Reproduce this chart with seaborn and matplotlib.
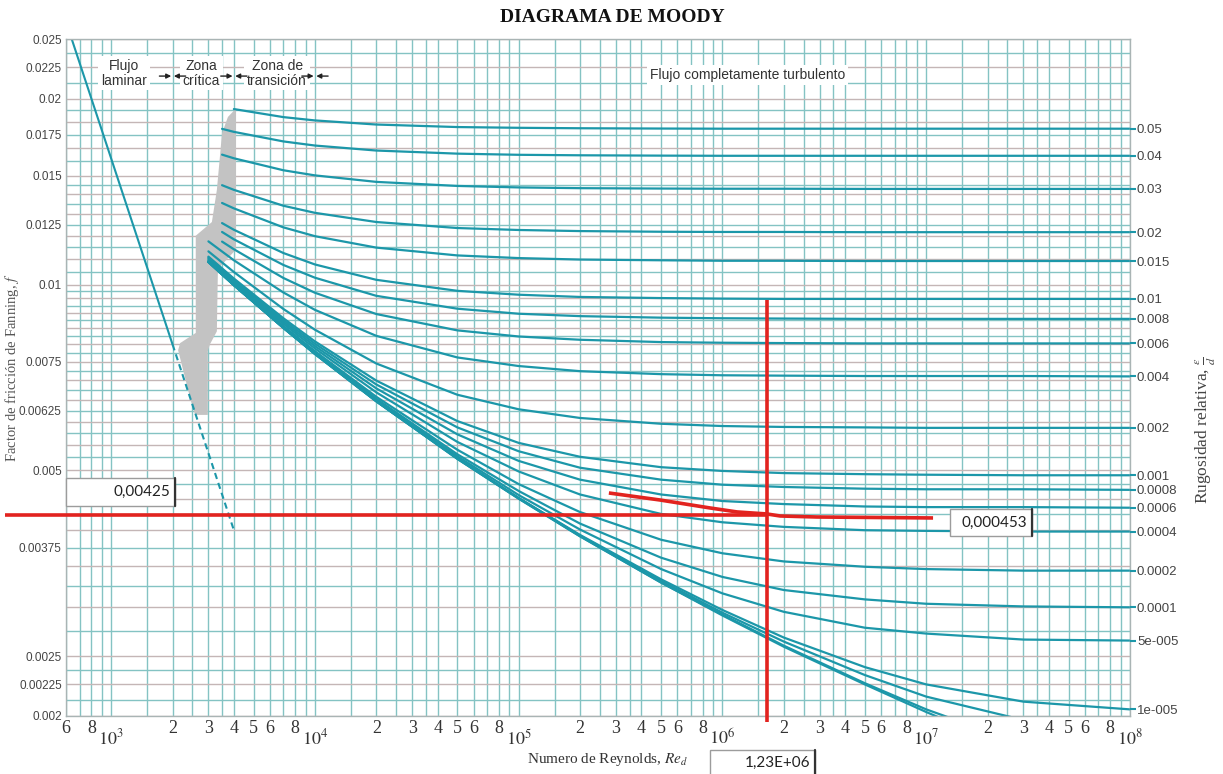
import numpy as np
import pandas as pd
import matplotlib
matplotlib.use("Agg")
import matplotlib.pyplot as plt
import seaborn as sns
from matplotlib.ticker import NullLocator
from matplotlib.patches import Rectangle
from matplotlib.lines import Line2D

# ---------------- data ----------------
RE_GRID = [4e3, 7e3, 1e4, 2e4, 5e4, 1e5, 2e5, 5e5, 1e6, 2e6, 5e6, 1e7, 3e7, 1e8]

ROUGHNESS = [0.05, 0.04, 0.03, 0.02, 0.015, 0.01, 0.008, 0.006, 0.004, 0.002,
             0.001, 0.0008, 0.0006, 0.0004, 0.0002, 0.0001, 5e-5, 1e-5, 5e-6, 1e-6, 0.0]
ROUGH_LABELS = ["0.05", "0.04", "0.03", "0.02", "0.015", "0.01", "0.008", "0.006", "0.004",
                "0.002", "0.001", "0.0008", "0.0006", "0.0004", "0.0002", "0.0001",
                "5e-005", "1e-005", None, None, None]
START_RE = [4000, 3500, 3500, 3500, 3500, 3500, 3500, 3500, 3000, 3000,
            3000, 3000, 3000, 3000, 3000, 3000, 3000, 3000, 3000, 3000, 3000]
START_F = [0.01925, 0.01788, 0.01624, 0.01449, 0.01356, 0.01258, 0.01217, 0.01174, 0.01175, 0.01132,
           0.01110, 0.01106, 0.01102, 0.01097, 0.01093, 0.01090, 0.01089, 0.01088, 0.01088, 0.01088, 0.01088]

F_0050 = [0.01925, 0.01868, 0.01845, 0.01817, 0.01800, 0.01795, 0.01792, 0.01790, 0.01789, 0.01789, 0.01789, 0.01789, 0.01789, 0.01789]
F_0040 = [0.01768, 0.01706, 0.01680, 0.01649, 0.01630, 0.01623, 0.01620, 0.01618, 0.01617, 0.01617, 0.01617, 0.01617, 0.01617, 0.01617]
F_0030 = [0.01602, 0.01532, 0.01503, 0.01467, 0.01445, 0.01437, 0.01433, 0.01431, 0.01430, 0.01430, 0.01429, 0.01429, 0.01429, 0.01429]
F_0020 = [0.01424, 0.01342, 0.01307, 0.01263, 0.01235, 0.01226, 0.01221, 0.01218, 0.01217, 0.01217, 0.01216, 0.01216, 0.01216, 0.01216]
F_0015 = [0.01329, 0.01238, 0.01198, 0.01148, 0.01115, 0.01104, 0.01098, 0.01095, 0.01093, 0.01093, 0.01092, 0.01092, 0.01092, 0.01092]
F_0010 = [0.01227, 0.01125, 0.01078, 0.01018, 0.00977, 0.00963, 0.00955, 0.00951, 0.00949, 0.00948, 0.00948, 0.00948, 0.00948, 0.00948]
F_0008 = [0.01184, 0.01076, 0.01026, 0.00959, 0.00914, 0.00897, 0.00889, 0.00884, 0.00882, 0.00881, 0.00880, 0.00880, 0.00880, 0.00880]
F_0006 = [0.01141, 0.01025, 0.00970, 0.00896, 0.00843, 0.00824, 0.00814, 0.00807, 0.00805, 0.00804, 0.00803, 0.00803, 0.00803, 0.00803]
F_0004 = [0.01095, 0.00971, 0.00910, 0.00826, 0.00762, 0.00738, 0.00724, 0.00716, 0.00713, 0.00712, 0.00711, 0.00711, 0.00711, 0.00710]
F_0002 = [0.01048, 0.00913, 0.00845, 0.00745, 0.00663, 0.00628, 0.00608, 0.00595, 0.00590, 0.00588, 0.00587, 0.00586, 0.00586, 0.00586]
F_00010 = [0.01023, 0.00882, 0.00809, 0.00699, 0.00601, 0.00554, 0.00526, 0.00506, 0.00499, 0.00495, 0.00493, 0.00492, 0.00491, 0.00491]
F_00008 = [0.01018, 0.00876, 0.00802, 0.00689, 0.00587, 0.00537, 0.00505, 0.00483, 0.00474, 0.00470, 0.00467, 0.00466, 0.00466, 0.00465]
F_00006 = [0.01013, 0.00870, 0.00795, 0.00679, 0.00572, 0.00518, 0.00483, 0.00457, 0.00446, 0.00441, 0.00437, 0.00436, 0.00436, 0.00435]
F_00004 = [0.01008, 0.00864, 0.00788, 0.00669, 0.00556, 0.00498, 0.00457, 0.00425, 0.00412, 0.00405, 0.00400, 0.00399, 0.00398, 0.00398]
F_00002 = [0.01003, 0.00857, 0.00780, 0.00658, 0.00540, 0.00475, 0.00428, 0.00386, 0.00367, 0.00356, 0.00349, 0.00346, 0.00344, 0.00344]
F_00001 = [0.01000, 0.00853, 0.00776, 0.00653, 0.00531, 0.00463, 0.00410, 0.00361, 0.00336, 0.00320, 0.00309, 0.00304, 0.00301, 0.00300]
F_5e5 = [0.00999, 0.00852, 0.00774, 0.00650, 0.00527, 0.00456, 0.00401, 0.00346, 0.00316, 0.00295, 0.00278, 0.00272, 0.00266, 0.00265]
F_1e5 = [0.00998, 0.00851, 0.00773, 0.00648, 0.00523, 0.00451, 0.00393, 0.00333, 0.00297, 0.00268, 0.00240, 0.00225, 0.00211, 0.00205]
F_5e6 = [0.00998, 0.00851, 0.00772, 0.00647, 0.00523, 0.00451, 0.00392, 0.00331, 0.00294, 0.00264, 0.00233, 0.00215, 0.00197, 0.00187]
F_1e6 = [0.00998, 0.00851, 0.00772, 0.00647, 0.00522, 0.00450, 0.00391, 0.00329, 0.00292, 0.00260, 0.00226, 0.00205, 0.00180, 0.00161]
F_SMOOTH = [0.00998, 0.00851, 0.00772, 0.00647, 0.00522, 0.00450, 0.00391, 0.00329, 0.00291, 0.00259, 0.00225, 0.00203, 0.00174, 0.00149]
F_CURVES = [F_0050, F_0040, F_0030, F_0020, F_0015, F_0010, F_0008, F_0006, F_0004, F_0002,
            F_00010, F_00008, F_00006, F_00004, F_00002, F_00001, F_5e5, F_1e5, F_5e6, F_1e6, F_SMOOTH]

LAM_RE = [640, 2000]
LAM_F = [0.025, 0.008]
LAM_DASH_RE = [2000, 4000]
LAM_DASH_F = [0.008, 0.004]

CRIT_RE = [4100, 4100, 3340, 3300, 3050, 2980, 2980, 2580, 2440, 2130, 2180, 2600, 2600, 3120, 3300, 3500, 3740]
CRIT_F = [0.0193, 0.0114, 0.0106, 0.0084, 0.0080, 0.0078, 0.00615, 0.00615, 0.00655, 0.00783,
          0.00804, 0.00835, 0.0120, 0.01263, 0.01423, 0.0176, 0.01869]

RED_H_RE = [300, 1.65e6]
RED_H_F = [0.00424, 0.00424]
RED_V_RE = [1.65e6, 1.65e6]
RED_V_F = [0.001955, 0.00944]
RED_C_RE = [2.77e5, 4.94e5, 8.69e5, 1.18e6, 1.65e6, 1.92e6, 2.91e6, 1.08e7]
RED_C_F = [0.004596, 0.004477, 0.004346, 0.004282, 0.00425, 0.004218, 0.004202, 0.004187]

Y_TICKS = [0.002, 0.00225, 0.0025, 0.00375, 0.005, 0.00625, 0.0075, 0.01,
           0.0125, 0.015, 0.0175, 0.02, 0.0225, 0.025]
Y_TICK_LABELS = ["0.002", "0.00225", "0.0025", "0.00375", "0.005", "0.00625", "0.0075", "0.01",
                 "0.0125", "0.015", "0.0175", "0.02", "0.0225", "0.025"]
X_TICKS = [600, 800, 1e3,
           2e3, 3e3, 4e3, 5e3, 6e3, 8e3, 1e4,
           2e4, 3e4, 4e4, 5e4, 6e4, 8e4, 1e5,
           2e5, 3e5, 4e5, 5e5, 6e5, 8e5, 1e6,
           2e6, 3e6, 4e6, 5e6, 6e6, 8e6, 1e7,
           2e7, 3e7, 4e7, 5e7, 6e7, 8e7, 1e8]
X_TICK_LABELS = ["6", "8", "$10^{3}$",
                 "2", "3", "4", "5", "6", "8", "$10^{4}$",
                 "2", "3", "4", "5", "6", "8", "$10^{5}$",
                 "2", "3", "4", "5", "6", "8", "$10^{6}$",
                 "2", "3", "4", "5", "6", "8", "$10^{7}$",
                 "2", "3", "4", "5", "6", "8", "$10^{8}$"]

ZONE_TEXTS = ["Flujo\nlaminar", "Zona\ncrítica", "Zona de\ntransición", "Flujo completamente turbulento"]
ZONE_RE = [1156, 2760, 6520, 1.33e6]
ZONE_F = [0.0220, 0.0220, 0.0220, 0.02188]
ARROW_RE = [2000, 4000, 1e4]
ARROW_F = 0.02177

BOX_TEXTS = ["0,00425", "0,000453", "1,23E+06"]

# ---------------- style ----------------
TEAL = "#1c97a9"
GRID_TEAL = "#84c3c3"
GRID_GRAY = "#c4b6b6"
RED = "#e2231f"

sns.set_theme(style="white")
plt.rcParams["font.family"] = ["Liberation Sans", "DejaVu Sans"]
plt.rcParams["mathtext.fontset"] = "stix"

W, H = 1223, 774
fig = plt.figure(figsize=(W / 100, H / 100), dpi=100)
fig.patch.set_facecolor("white")
ax = fig.add_axes([66 / W, 58 / H, 1064 / W, 677 / H])
ax.set_xscale("log")
ax.set_yscale("log")
ax.set_xlim(600, 1e8)
ax.set_ylim(0.002, 0.025)

# grid
GRID_MULT = [1, 1.5, 2, 2.5, 3, 3.5, 4, 5, 6, 7, 8, 9]
vgrid = [m * 10 ** d for d in range(2, 8) for m in GRID_MULT if 600 <= m * 10 ** d <= 1e8] + [1e8]
hgrid = (list(np.arange(0.002, 0.0025, 0.000125)) + list(np.arange(0.0025, 0.01, 0.00025))
         + list(np.arange(0.01, 0.015, 0.0005)) + [0.015 + k * 0.0025 / 3 for k in range(6)]
         + list(np.arange(0.02, 0.02501, 0.00125)))
ax.vlines(vgrid, 0.002, 0.025, colors=GRID_TEAL, lw=1.0, zorder=0.5)
hcols = [GRID_GRAY if i % 2 == 0 else GRID_TEAL for i in range(len(hgrid))]
ax.hlines(hgrid, 600, 1e8, colors=hcols, lw=1.0, zorder=0.5)

# critical zone
ax.fill(CRIT_RE, CRIT_F, color="#c3c3c3", lw=0, zorder=1)

# turbulent curves
rows = []
for i, eps in enumerate(ROUGHNESS):
    res = list(RE_GRID)
    fs = list(F_CURVES[i])
    if START_RE[i] < RE_GRID[0]:
        res = [START_RE[i]] + res
        fs = [START_F[i]] + fs
    for r, f in zip(res, fs):
        rows.append({"Re": r, "f": f, "curve": i})
df = pd.DataFrame(rows)
sns.lineplot(data=df, x="Re", y="f", units="curve", estimator=None, sort=False,
             color=TEAL, lw=1.6, ax=ax, legend=False, zorder=2)

# laminar
sns.lineplot(x=LAM_RE, y=LAM_F, color=TEAL, lw=1.5, ax=ax, zorder=2)
sns.lineplot(x=LAM_DASH_RE, y=LAM_DASH_F, color=TEAL, lw=1.5, ax=ax, zorder=2, linestyle=(0, (3, 2)))

# red reading lines
ax.plot(RED_H_RE, RED_H_F, color=RED, lw=2.6, clip_on=False, zorder=6, solid_capstyle="butt")
ax.plot(RED_V_RE, RED_V_F, color=RED, lw=2.6, clip_on=False, zorder=6, solid_capstyle="butt")
ax.plot(RED_C_RE, RED_C_F, color=RED, lw=2.6, zorder=6, solid_capstyle="butt")

# zone texts
bb = dict(facecolor="white", edgecolor="none", pad=2.0)
for t, r, f in zip(ZONE_TEXTS, ZONE_RE, ZONE_F):
    ax.text(r, f, t, ha="center", va="center", fontsize=10, color="#333333",
            bbox=bb, linespacing=1.05, zorder=7)
for b in ARROW_RE:
    for side in (-1, 1):
        ax.annotate("", xy=(b * 1.015 ** side, ARROW_F), xytext=(b * 1.16 ** side, ARROW_F),
                    arrowprops=dict(arrowstyle="-|>", color="#222222", lw=1.0,
                                    mutation_scale=7, shrinkA=0, shrinkB=0), zorder=8)

# axes ticks
ax.xaxis.set_minor_locator(NullLocator())
ax.yaxis.set_minor_locator(NullLocator())
ax.set_yticks(Y_TICKS)
ax.set_yticklabels(Y_TICK_LABELS, fontsize=8.5, color="#444444")
ax.set_xticks(X_TICKS)
ax.set_xticklabels(X_TICK_LABELS, fontsize=13, color="#333333", family="Liberation Serif")
ax.tick_params(axis="both", length=0, pad=3)
for tk, lab in zip(ax.xaxis.get_major_ticks(), X_TICK_LABELS):
    if lab.startswith("$"):
        tk.set_pad(9)
for s in ax.spines.values():
    s.set_color("#a9b4b4")
    s.set_linewidth(1.0)
ax.set_xlabel("")
ax.set_ylabel("")

# right roughness axis
ax2 = ax.twinx()
ax2.set_yscale("log")
ax2.set_ylim(0.002, 0.025)
ax2.yaxis.set_minor_locator(NullLocator())
rt = [F_CURVES[i][-1] for i in range(len(ROUGHNESS)) if ROUGH_LABELS[i]]
rl = [ROUGH_LABELS[i] for i in range(len(ROUGHNESS)) if ROUGH_LABELS[i]]
ax2.set_yticks(rt)
ax2.set_yticklabels(rl, fontsize=9.5, color="#444444")
ax2.tick_params(axis="y", length=4, width=1.5, color=TEAL, pad=1)
for s in ax2.spines.values():
    s.set_visible(False)

# titles / labels
fig.text(612 / W, 1 - 18 / H, "DIAGRAMA DE MOODY", ha="center", va="center",
         fontsize=14, fontweight="bold", family="Liberation Serif", color="#111111")
fig.text(607 / W, 1 - 760 / H, "Numero de Reynolds, $Re_d$", ha="center", va="center",
         fontsize=11, family="Liberation Serif", color="#333333")
fig.text(12 / W, 1 - 368 / H, "Factor de fricción de Fanning, $f$", rotation=90,
         ha="center", va="center", fontsize=10.5, family="Liberation Serif", color="#555555")
fig.text(1206 / W, 1 - 430 / H, r"Rugosidad relativa, $\frac{\varepsilon}{d}$", rotation=90,
         ha="center", va="center", fontsize=12.5, family="Liberation Serif", color="#444444")

# value boxes
def value_box(x0, y0, x1, y1, text):
    fx, fy = x0 / W, 1 - y1 / H
    fw, fh = (x1 - x0) / W, (y1 - y0) / H
    fig.patches.append(Rectangle((fx, fy), fw, fh, transform=fig.transFigure,
                                 facecolor="white", edgecolor="#9c9c9c", lw=1.0, zorder=9))
    fig.lines.append(Line2D([x1 / W, x1 / W], [fy, fy + fh], transform=fig.transFigure,
                            color="#333333", lw=1.6, zorder=10))
    fig.text((x1 - 5) / W, fy + fh / 2, text, ha="right", va="center", fontsize=11,
             family=["Lato", "DejaVu Sans"], color="#222222", zorder=11)

value_box(66, 478, 175, 506, BOX_TEXTS[0])
value_box(950, 509, 1032, 536, BOX_TEXTS[1])
value_box(710, 750, 815, 776, BOX_TEXTS[2])

fig.savefig("out.png", dpi=100, facecolor="white")
